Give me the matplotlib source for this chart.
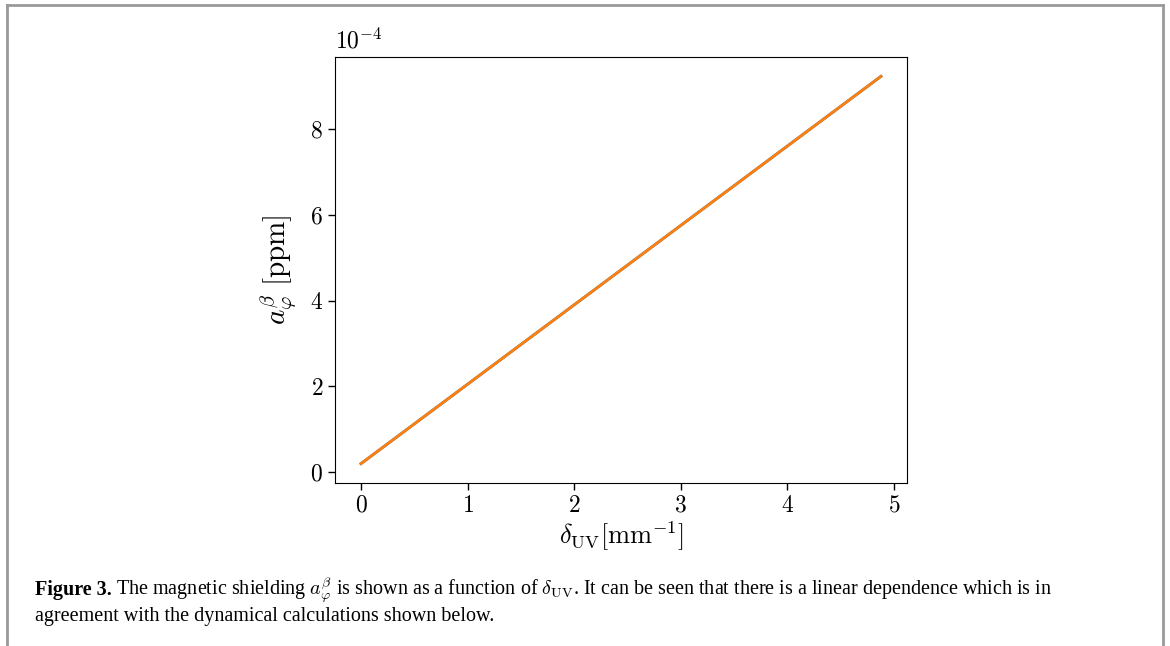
import numpy as np
import matplotlib
matplotlib.use('Agg')
import matplotlib.pyplot as plt
from matplotlib.lines import Line2D
from matplotlib.ticker import FuncFormatter

plt.rcParams['font.family'] = 'serif'
plt.rcParams['font.serif'] = ['cmr10']
plt.rcParams['mathtext.fontset'] = 'cm'
plt.rcParams['axes.formatter.use_mathtext'] = True

# data
delta_uv = [0.0, 4.88]          # mm^-1
shielding = [0.20e-4, 9.23e-4]  # ppm
scale = 1e-4

fig = plt.figure(figsize=(11.7, 6.46), dpi=100)
ax = fig.add_axes([0.2863, 0.2523, 0.4889, 0.6595])

ax.plot(delta_uv, shielding, color='C0', lw=2)
ax.plot(delta_uv, shielding, color='C1', lw=2)

ax.set_xticks([0, 1, 2, 3, 4, 5])
ax.set_yticks([0, 2e-4, 4e-4, 6e-4, 8e-4])
ax.yaxis.set_major_formatter(FuncFormatter(lambda v, p: r'$%d$' % round(v / scale)))
ax.xaxis.set_major_formatter(FuncFormatter(lambda v, p: r'$%d$' % round(v)))
ax.tick_params(labelsize=17, length=5, width=1)
ax.text(0, 1.008, r'$10^{-4}$', transform=ax.transAxes, fontsize=17, va='bottom', ha='left')
ax.set_xlabel(r'$\delta_{\rm UV}[{\rm mm}^{-1}]$', fontsize=19, labelpad=2)
ax.set_ylabel(r'$a_\varphi^\beta\ [{\rm ppm}]$', fontsize=21, labelpad=8)

# page frame
for xs, ys in [([7/1170, 1163/1170], [1-5/646, 1-5/646]),
               ([7/1170, 7/1170], [0, 1-5/646]),
               ([1163/1170, 1163/1170], [0, 1-5/646])]:
    fig.add_artist(Line2D(xs, ys, color='#999999', lw=2, transform=fig.transFigure))

# caption
cap_font = 'Liberation Serif'
cap_size = 14.5
t1 = fig.text(35/1170, 1-590/646, 'Figure 3.', fontsize=cap_size, fontweight='bold',
              family=cap_font, va='center')
fig.canvas.draw()
bb = t1.get_window_extent()
fig.text((bb.x1 + 4) / 1170, 1-590/646,
         r'The magnetic shielding $a_\varphi^\beta$ is shown as a function of $\delta_{\rm UV}$. '
         r'It can be seen that there is a linear dependence which is in',
         fontsize=cap_size, family=cap_font, va='center')
fig.text(35/1170, 1-617/646,
         'agreement with the dynamical calculations shown below.',
         fontsize=cap_size, family=cap_font, va='center')

fig.savefig('out.png', dpi=100)
